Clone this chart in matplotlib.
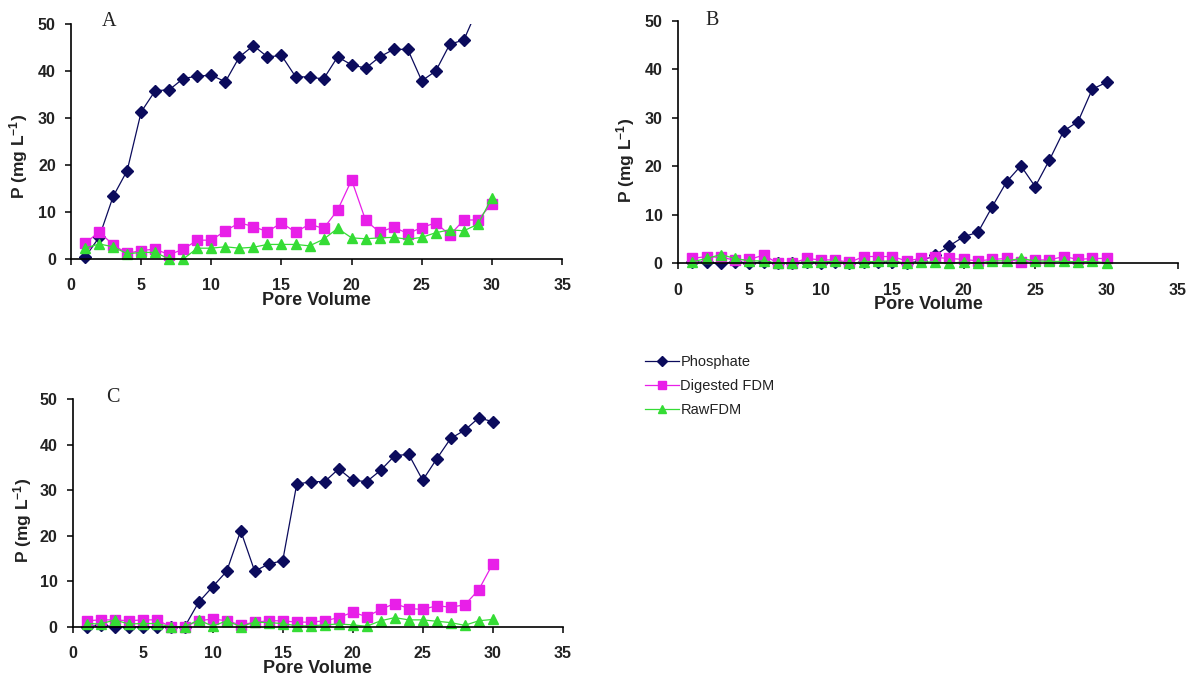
import numpy as np
import matplotlib
matplotlib.use('Agg')
import matplotlib.pyplot as plt
from matplotlib.patches import Rectangle
from matplotlib.lines import Line2D

plt.rcParams['font.family'] = 'Liberation Sans'
plt.rcParams['mathtext.fontset'] = 'custom'
plt.rcParams['mathtext.bf'] = 'Liberation Sans:bold'
plt.rcParams['mathtext.rm'] = 'Liberation Sans:bold'
plt.rcParams['mathtext.default'] = 'bf'

pore_volume = np.arange(1, 31)

# Column A
a_phosphate = [0.4, 4.6, 13.3, 18.8, 31.3, 35.8, 36.0, 38.4, 38.9, 39.1,
               37.7, 43.0, 45.4, 43.0, 43.3, 38.8, 38.7, 38.3, 43.0, 41.3,
               40.6, 43.0, 44.6, 44.6, 37.9, 40.0, 45.7, 46.6, 53.4, 55.0]
a_digested = [3.3, 5.8, 3.0, 1.2, 1.8, 2.1, 0.9, 2.1, 4.0, 4.0,
              6.0, 7.7, 6.9, 5.8, 7.7, 5.7, 7.4, 6.5, 10.4, 16.8,
              8.2, 5.7, 6.8, 5.4, 6.7, 7.7, 5.1, 8.3, 8.3, 11.8]
a_raw = [2.3, 3.2, 2.6, 1.1, 1.4, 1.4, 0.0, 0.0, 2.3, 2.3,
         2.6, 2.3, 2.5, 3.1, 3.1, 3.1, 2.8, 4.2, 6.5, 4.5,
         4.3, 4.5, 4.6, 4.2, 4.6, 5.6, 6.2, 6.0, 7.4, 13.0]

# Column B
b_phosphate = [0.3, 0.2, 0.0, 0.3, 0.1, 0.2, 0.0, 0.0, 0.2, 0.1,
               0.2, 0.0, 0.2, 0.3, 0.2, 0.1, 0.4, 1.7, 3.6, 5.5,
               6.4, 11.7, 16.8, 20.1, 15.8, 21.3, 27.3, 29.2, 35.9, 37.3]
b_digested = [1.0, 1.4, 1.2, 0.7, 0.8, 1.7, 0.0, 0.0, 1.0, 0.7,
              0.7, 0.2, 1.4, 1.4, 1.4, 0.5, 1.0, 1.2, 1.0, 0.8,
              0.5, 0.8, 1.0, 0.2, 0.7, 0.7, 1.4, 0.8, 1.0, 1.0]
b_raw = [0.3, 1.0, 1.8, 1.0, 0.5, 0.5, 0.0, 0.0, 0.3, 0.3,
         0.4, 0.0, 0.3, 0.4, 0.5, 0.0, 0.3, 0.3, 0.0, 0.3,
         0.0, 0.5, 0.5, 1.0, 0.5, 0.4, 0.4, 0.3, 0.4, 0.1]

# Column C
c_phosphate = [0.0, 0.3, 0.0, 0.0, 0.0, 0.0, 0.0, 0.0, 5.4, 8.8,
               12.2, 21.1, 12.2, 13.8, 14.5, 31.3, 31.9, 31.9, 34.7, 32.2,
               31.9, 34.4, 37.6, 37.9, 32.2, 36.9, 41.4, 43.2, 45.9, 45.1]
c_digested = [1.3, 1.5, 1.5, 1.3, 1.5, 1.5, 0.0, 0.0, 1.3, 1.7,
              1.3, 0.4, 1.0, 1.3, 1.3, 1.0, 1.0, 1.3, 2.0, 3.2,
              2.2, 3.8, 5.1, 4.0, 3.8, 4.6, 4.3, 4.8, 8.1, 13.8]
c_raw = [0.7, 0.6, 1.5, 0.6, 0.7, 0.7, 0.0, 0.0, 1.5, 0.1,
         1.3, 0.0, 1.0, 0.9, 0.7, 0.2, 0.2, 0.4, 0.6, 0.4,
         0.1, 1.3, 2.0, 1.5, 1.5, 1.2, 0.9, 0.3, 1.3, 1.6]

series_names = ['Phosphate', 'Digested FDM', 'RawFDM']
styles = [
    dict(color='#0b0b5c', marker='D', markersize=5.8, linewidth=0.9),
    dict(color='#e81fe8', marker='s', markersize=7.2, linewidth=0.9),
    dict(color='#35dc35', marker='^', markersize=6.7, linewidth=0.9),
]
text_col = '#222222'

fig = plt.figure(figsize=(12, 6.85), dpi=100)

panels = [
    ('A', [0.0592, 0.6219, 0.4092, 0.3431], (a_phosphate, a_digested, a_raw), (-0.107, 0.438), (0.078, 1.01)),
    ('B', [0.5650, 0.6156, 0.4167, 0.3542], (b_phosphate, b_digested, b_raw), (-0.104, 0.426), (0.068, 1.0)),
    ('C', [0.0606, 0.0851, 0.4083, 0.3320], (c_phosphate, c_digested, c_raw), (-0.103, 0.469), (0.082, 1.01)),
]

for letter, rect, data, ylab_pos, letter_pos in panels:
    ax = fig.add_axes(rect)
    for vals, st in zip(data, styles):
        line, = ax.plot(pore_volume, vals, markerfacecolor=st['color'],
                        markeredgecolor=st['color'], **st)
        # let markers sitting on zero spill below the axis, cut everything above 50
        line.set_clip_path(Rectangle((-0.05, -0.1), 1.1, 1.1, transform=ax.transAxes))
    ax.set_xlim(0, 35)
    ax.set_ylim(0, 50)
    ax.set_xticks(range(0, 36, 5))
    ax.set_yticks(range(0, 51, 10))
    for s in ['top', 'right']:
        ax.spines[s].set_visible(False)
    for s in ['left', 'bottom']:
        ax.spines[s].set_linewidth(1.2)
        ax.spines[s].set_color('black')
    ax.tick_params(axis='both', direction='out', length=4, width=1.1,
                   labelsize=11.5, labelcolor=text_col)
    ax.tick_params(axis='x', pad=10)
    ax.tick_params(axis='y', pad=7)
    for lab in ax.get_xticklabels() + ax.get_yticklabels():
        lab.set_fontweight('bold')
    ax.set_xlabel('Pore Volume', fontsize=13, fontweight='bold', color=text_col, labelpad=-1)
    ax.text(ylab_pos[0], ylab_pos[1], 'P (mg L$^{-1}$)', transform=ax.transAxes,
            rotation=90, ha='center', va='center', fontsize=12.5, fontweight='bold',
            color=text_col)
    ax.text(letter_pos[0], letter_pos[1], letter, transform=ax.transAxes,
            ha='center', va='center', fontsize=14.5, family='Liberation Serif',
            color=text_col)

handles = [Line2D([], [], markerfacecolor=st['color'], markeredgecolor=st['color'],
                  **{**st, 'markersize': st['markersize'] * 0.8}) for st in styles]
fig.legend(handles, series_names, loc='upper left', bbox_to_anchor=(645 / 1200, 1 - 355 / 685),
           frameon=False, fontsize=10.5, handlelength=2.3, handletextpad=0.12,
           labelspacing=0.68, borderpad=0, borderaxespad=0, labelcolor=text_col)

fig.savefig('out.png', dpi=100, facecolor='white')
